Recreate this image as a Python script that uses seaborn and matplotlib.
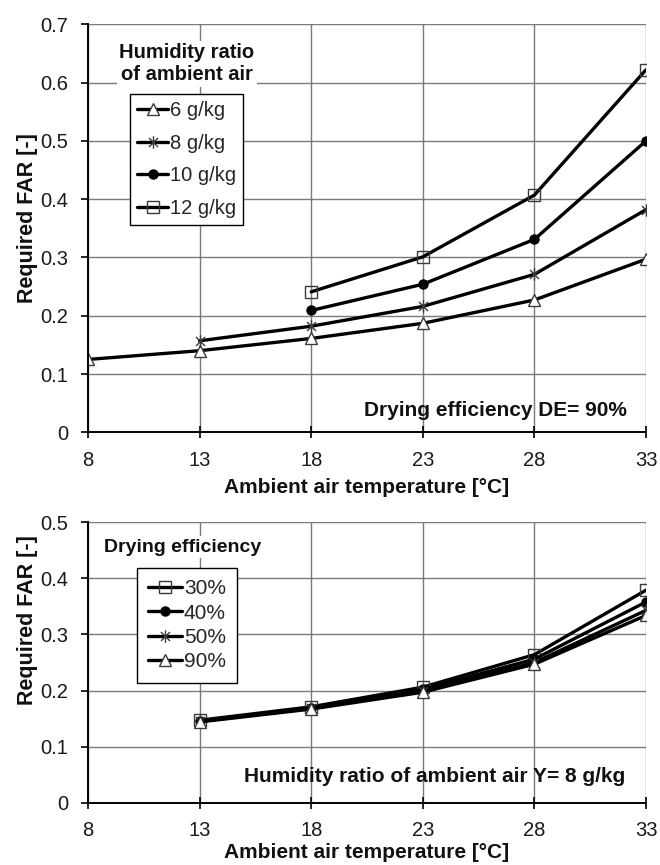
import numpy as np
import pandas as pd
import matplotlib
matplotlib.use("Agg")
import matplotlib.pyplot as plt
from matplotlib.path import Path
import seaborn as sns

# ---------------- data ----------------
temps_all = [8, 13, 18, 23, 28, 33]

# Top panel: drying efficiency DE = 90 %, series by humidity ratio
hum_labels = ["6 g/kg", "8 g/kg", "10 g/kg", "12 g/kg"]
hum_temps = [
    [8, 13, 18, 23, 28, 33],
    [13, 18, 23, 28, 33],
    [18, 23, 28, 33],
    [18, 23, 28, 33],
]
far_6 = [0.125, 0.140, 0.161, 0.187, 0.227, 0.297]
far_8 = [0.157, 0.182, 0.216, 0.271, 0.382]
far_10 = [0.209, 0.254, 0.331, 0.500]
far_12 = [0.241, 0.301, 0.407, 0.622]
hum_values = [far_6, far_8, far_10, far_12]

# Bottom panel: humidity ratio Y = 8 g/kg, series by drying efficiency
de_labels = ["30%", "40%", "50%", "90%"]
de_temps = [13, 18, 23, 28, 33]
far_de30 = [0.147, 0.171, 0.206, 0.264, 0.379]
far_de40 = [0.146, 0.169, 0.202, 0.256, 0.358]
far_de50 = [0.145, 0.168, 0.199, 0.250, 0.343]
far_de90 = [0.144, 0.167, 0.197, 0.247, 0.334]
de_values = [far_de30, far_de40, far_de50, far_de90]

x_ticks = [8, 13, 18, 23, 28, 33]
top_yticks = [0, 0.1, 0.2, 0.3, 0.4, 0.5, 0.6, 0.7]
bot_yticks = [0, 0.1, 0.2, 0.3, 0.4, 0.5]

# ---------------- style ----------------
sns.set_theme(style="white")
plt.rcParams["font.family"] = ["Liberation Sans", "DejaVu Sans"]

star = Path([(0, -1), (0, 1), (-0.72, -0.72), (0.72, 0.72), (-0.72, 0.72), (0.72, -0.72)],
            [Path.MOVETO, Path.LINETO, Path.MOVETO, Path.LINETO, Path.MOVETO, Path.LINETO])

EDGE = "#3a3a3a"
marker_styles = {
    "tri": dict(marker="^", markersize=8, markerfacecolor="white", markeredgecolor=EDGE, markeredgewidth=1.0),
    "star": dict(marker=star, markersize=9, markerfacecolor="none", markeredgecolor=EDGE, markeredgewidth=1.0),
    "dot": dict(marker="o", markersize=6.5, markerfacecolor="black", markeredgecolor="black", markeredgewidth=1.0),
    "sq": dict(marker="s", markersize=8, markerfacecolor="none", markeredgecolor=EDGE, markeredgewidth=1.0),
}
top_markers = ["tri", "star", "dot", "sq"]
bot_markers = ["sq", "dot", "star", "tri"]

W, H = 660, 865
fig = plt.figure(figsize=(W / 100, H / 100), dpi=100)


def ax_rect(x0, x1, ytop, ybot):
    return [x0 / W, 1 - ybot / H, (x1 - x0) / W, (ybot - ytop) / H]


ax1 = fig.add_axes(ax_rect(88, 646, 24.3, 432.3))
ax2 = fig.add_axes(ax_rect(88, 646, 522.3, 802.7))

FS = 14.5
GRID = "#7a7a7a"


def style_axes(ax, ymax, yticks):
    ax.set_xlim(8, 33)
    ax.set_ylim(0, ymax)
    ax.set_xticks(x_ticks)
    ax.set_xticklabels([str(t) for t in x_ticks])
    ax.set_yticks(yticks)
    ax.set_yticklabels(["0" if t == 0 else f"{t:.1f}" for t in yticks])
    ax.grid(True, color=GRID, linewidth=1.0)
    ax.set_axisbelow(True)
    for s in ["top", "right"]:
        ax.spines[s].set_visible(False)
    for s in ["left", "bottom"]:
        ax.spines[s].set_visible(True)
        ax.spines[s].set_color("black")
        ax.spines[s].set_linewidth(1.4)
    ax.tick_params(axis="y", direction="out", length=5, width=1.2, color="black",
                   labelsize=FS, labelcolor="#1a1a1a", pad=9, left=True)
    ax.tick_params(axis="x", direction="inout", length=9, width=1.2, color="black",
                   labelsize=FS, labelcolor="#1a1a1a", pad=9, bottom=True)
    ax.set_xlabel("Ambient air temperature [°C]", fontsize=15, fontweight="bold", color="#111111")
    ax.set_ylabel("Required FAR [-]", fontsize=15.5, fontweight="bold", color="#111111")


# ---- top panel ----
for lab, xs, ys, mk in zip(hum_labels, hum_temps, hum_values, top_markers):
    df = pd.DataFrame({"T": xs, "FAR": ys})
    sns.lineplot(data=df, x="T", y="FAR", ax=ax1, color="black", linewidth=2.4,
                 label=lab, **marker_styles[mk])
style_axes(ax1, 0.7, top_yticks)
ax1.xaxis.set_label_coords(0.5, -(478 - 432.3) / 408)
ax1.yaxis.set_label_coords((38 - 88) / 558, 0.524)

h, l = ax1.get_legend_handles_labels()
leg1 = ax1.legend(h, l, loc="upper left",
                  bbox_to_anchor=((130 - 88) / 558, (432.3 - 94) / 408),
                  borderaxespad=0, frameon=True, fancybox=False, framealpha=1,
                  edgecolor="black", fontsize=FS, handlelength=1.55, handletextpad=0.1,
                  labelspacing=0.68, borderpad=0.35)
leg1.get_frame().set_linewidth(1.0)

ax1.text((187 - 88) / 558, (432.3 - 64) / 408, "Humidity ratio\nof ambient air",
         transform=ax1.transAxes, ha="center", va="center", fontsize=14.5,
         fontweight="bold", color="#111111", linespacing=1.2,
         bbox=dict(facecolor="white", edgecolor="none", pad=2))
ax1.text((627 - 88) / 558, (432.3 - 411) / 408, "Drying efficiency DE= 90%",
         transform=ax1.transAxes, ha="right", va="center", fontsize=15,
         fontweight="bold", color="#111111")

# ---- bottom panel ----
for lab, ys, mk in zip(de_labels, de_values, bot_markers):
    df = pd.DataFrame({"T": de_temps, "FAR": ys})
    sns.lineplot(data=df, x="T", y="FAR", ax=ax2, color="black", linewidth=2.4,
                 label=lab, **marker_styles[mk])
style_axes(ax2, 0.5, bot_yticks)
ax2.xaxis.set_label_coords(0.5, -(843 - 802.7) / 280.4)
ax2.yaxis.set_label_coords((38 - 88) / 558, 0.65)

h, l = ax2.get_legend_handles_labels()
leg2 = ax2.legend(h, l, loc="upper left",
                  bbox_to_anchor=((137 - 88) / 558, (802.7 - 568) / 280.4),
                  borderaxespad=0, frameon=True, fancybox=False, framealpha=1,
                  edgecolor="black", fontsize=15, handlelength=1.6, handletextpad=0.1,
                  labelspacing=0.25, borderpad=0.55)
leg2.get_frame().set_linewidth(1.0)

ax2.text((104 - 88) / 558, (802.7 - 547) / 280.4, "Drying efficiency",
         transform=ax2.transAxes, ha="left", va="center", fontsize=14,
         fontweight="bold", color="#111111",
         bbox=dict(facecolor="white", edgecolor="none", pad=2))
ax2.text((625 - 88) / 558, (802.7 - 777) / 280.4, "Humidity ratio of ambient air Y= 8 g/kg",
         transform=ax2.transAxes, ha="right", va="center", fontsize=15,
         fontweight="bold", color="#111111")

fig.savefig("out.png", dpi=100, facecolor="white")
